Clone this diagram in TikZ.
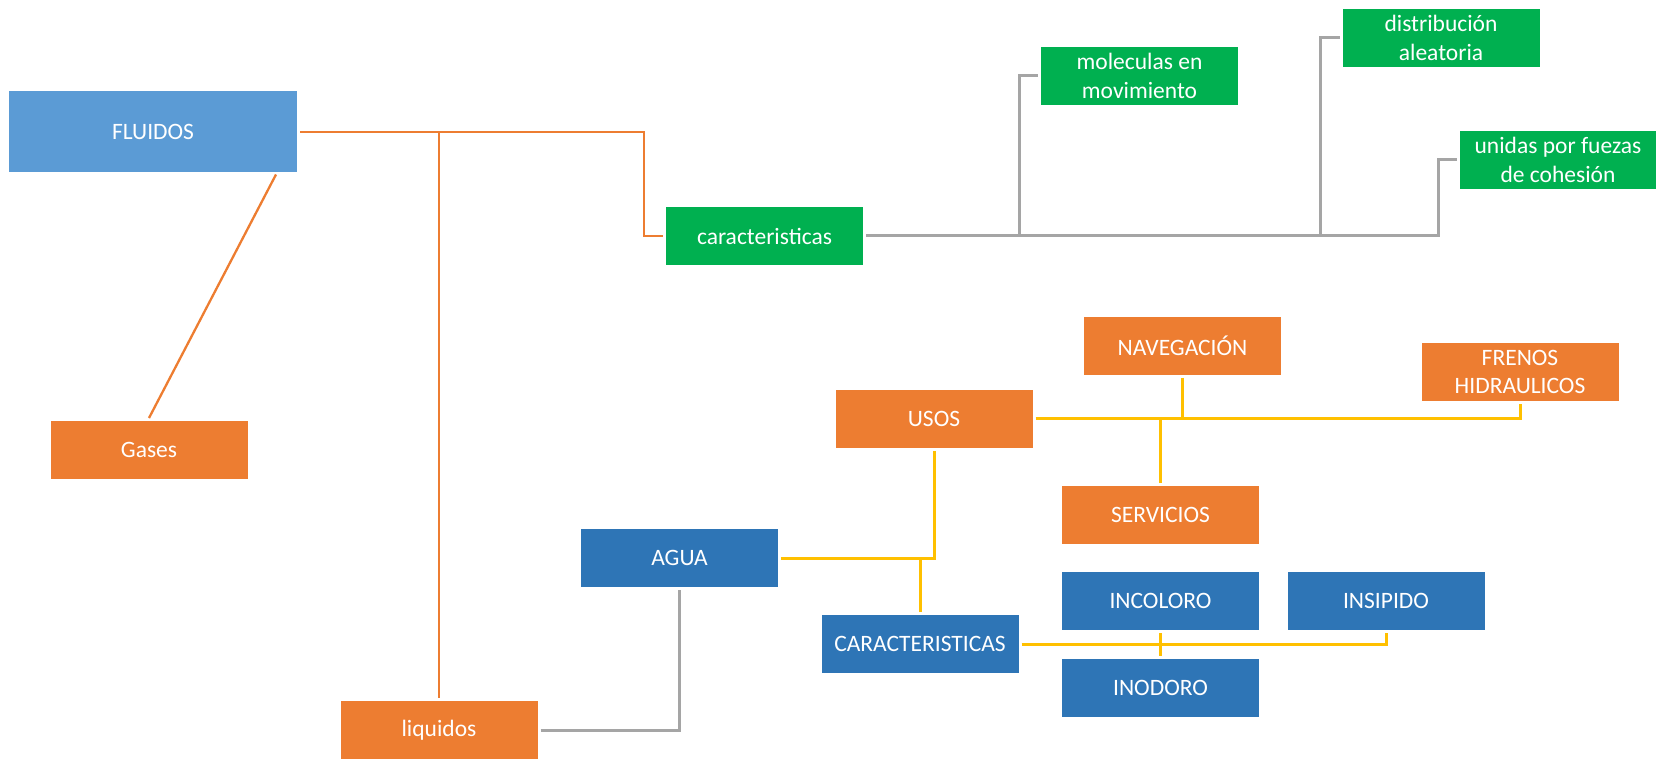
\documentclass[tikz,border=0pt]{standalone}
\usepackage{fontspec}
\setmainfont{Carlito}
\usetikzlibrary{calc}
\definecolor{cLight}{HTML}{5B9BD5}
\definecolor{cOrange}{HTML}{ED7D31}
\definecolor{cGreen}{HTML}{00B050}
\definecolor{cBlue}{HTML}{2E75B6}
\definecolor{cYellow}{HTML}{FFC000}
\definecolor{cGrey}{HTML}{A5A5A5}
\tikzset{
  box/.style={rectangle, inner sep=0pt, outer sep=3pt, text=white, align=center,
    minimum width=197pt, minimum height=58pt,
    font=\fontsize{23.5}{28.5}\selectfont},
  obox/.style={box, fill=cOrange},
  gbox/.style={box, fill=cGreen},
  bbox/.style={box, fill=cBlue},
  oline/.style={draw=cOrange, line width=2.3pt},
  yline/.style={draw=cYellow, line width=3pt},
  gline/.style={draw=cGrey, line width=3pt},
}
\begin{document}
\begin{tikzpicture}[x=1pt,y=-1pt]
\useasboundingbox (0,0) rectangle (1656,759);
% nodes
\node[box, fill=cLight, minimum width=288pt, minimum height=81pt] (fluidos) at (153,132) {FLUIDOS};
\node[obox] (gases) at (149,450) {Gases};
\node[obox] (liquidos) at (439,730) {liquidos};
\node[gbox] (caract) at (764.5,236) {caracteristicas};
\node[gbox] (molec) at (1139.5,76) {moleculas en\\movimiento};
\node[gbox] (distrib) at (1441,38) {distribución\\aleatoria};
\node[gbox, minimum width=196pt] (unidas) at (1558,160) {unidas por fuezas\\de cohesión};
\node[obox] (nav) at (1182.5,345.5) {NAVEGACIÓN};
\node[obox] (frenos) at (1520,372) {FRENOS\\HIDRAULICOS};
\node[obox] (usos) at (934,418.5) {USOS};
\node[obox] (servicios) at (1160.5,515) {SERVICIOS};
\node[bbox] (agua) at (679.5,558) {AGUA};
\node[bbox] (CARACT) at (920,644) {CARACTERISTICAS};
\node[bbox] (incoloro) at (1160.5,601) {INCOLORO};
\node[bbox] (insipido) at (1386,601) {INSIPIDO};
\node[bbox] (inodoro) at (1160.5,687.5) {INODORO};
% orange connectors
\coordinate (j1) at (644,132);
\coordinate (j2) at (439,132);
\draw[oline] (fluidos.east) -- (j1) |- (caract.west);
\draw[oline] (j2) -- (liquidos.north);
\draw[oline] ([xshift=123pt,yshift=1pt]fluidos.south) -- (gases.north);
% grey connectors
\draw[gline] (liquidos.east) -| (agua.south);
\coordinate (g1) at (1019,236);
\coordinate (g2) at (1320,236);
\draw[gline] (caract.east) -| (1438,160) -- (unidas.west);
\draw[gline] (g1) |- (molec.west);
\draw[gline] (g2) |- (distrib.west);
% yellow connectors
\draw[yline] (usos.east) -| (frenos.south);
\draw[yline] (nav.south) -- (nav.south |- usos.east);
\draw[yline] (servicios.north) -- (servicios.north |- usos.east);
\draw[yline] (agua.east) -| (usos.south);
\draw[yline] (CARACT.north) -- (CARACT.north |- agua.east);
\draw[yline] (CARACT.east) -| (insipido.south);
\draw[yline] (incoloro.south) -- (inodoro.north);
\end{tikzpicture}
\end{document}
